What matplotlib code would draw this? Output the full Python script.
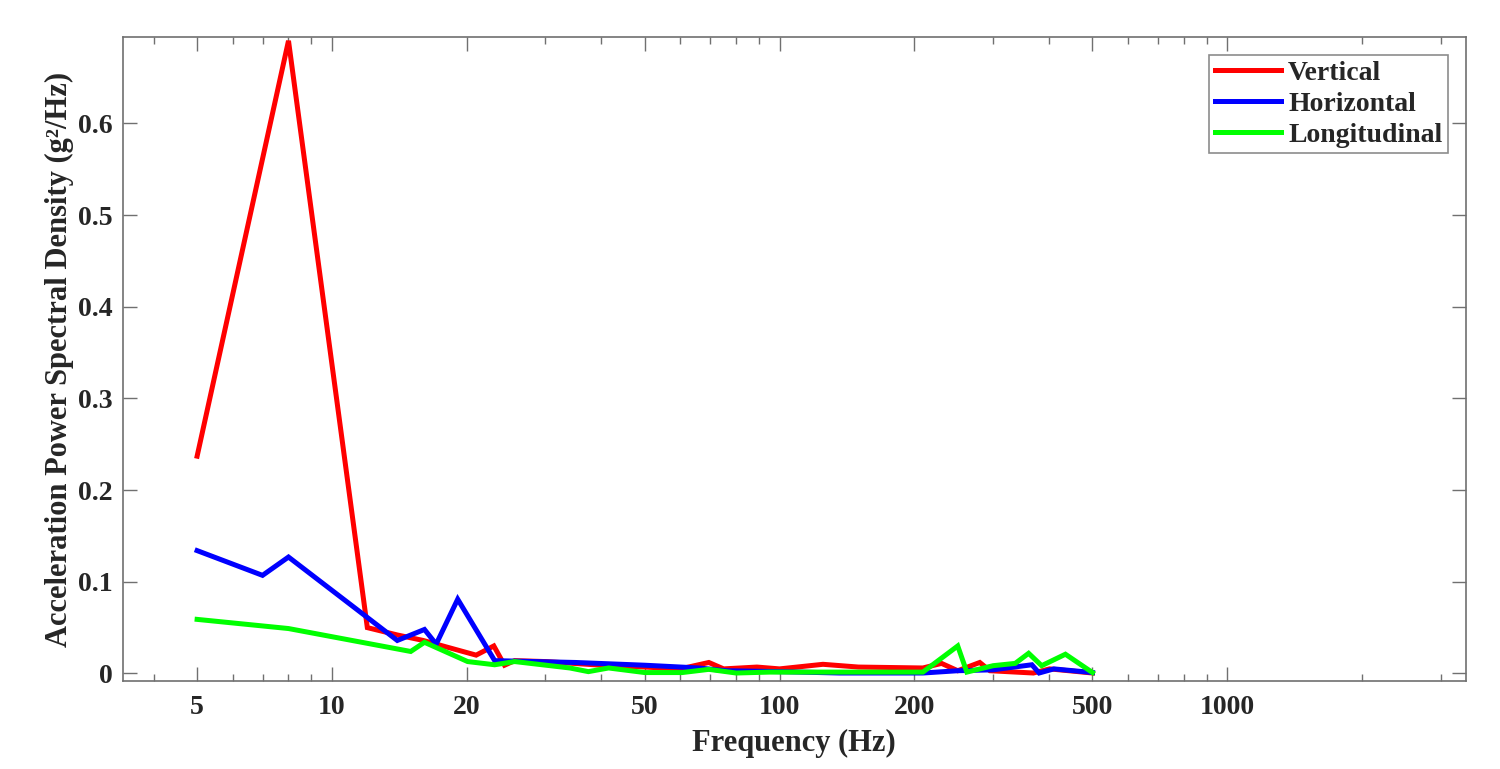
import matplotlib
matplotlib.use("Agg")
import matplotlib.pyplot as plt
from matplotlib.ticker import FixedLocator, NullFormatter

# ---- data ----
f_vert = [5, 8, 12, 14, 16, 18, 21, 23, 24.3, 25.6, 30, 40, 50, 60, 69.5, 75, 89, 100, 125, 150, 209, 230, 250, 280, 295, 369, 401, 500]
v_vert = [0.237, 0.690, 0.050, 0.042, 0.036, 0.029, 0.020, 0.030, 0.009, 0.014, 0.013, 0.009, 0.007, 0.005, 0.012, 0.005, 0.007, 0.005, 0.010, 0.007, 0.006, 0.011, 0.003, 0.012, 0.003, 0.0005, 0.005, 0.0005]

f_horz = [5, 7, 8, 14, 16.1, 17.1, 19.1, 23.1, 35, 50, 66, 76, 100, 136, 209, 250, 300, 366, 380, 410, 500]
v_horz = [0.134, 0.107, 0.127, 0.036, 0.048, 0.032, 0.081, 0.014, 0.012, 0.009, 0.006, 0.003, 0.002, 0.0005, 0.0005, 0.003, 0.004, 0.0095, 0.0005, 0.005, 0.001]

f_long = [5, 8, 15, 16.1, 20.1, 23.1, 25.6, 34, 37.4, 41.5, 50, 60.6, 69.5, 80, 95, 138, 209, 250, 262, 300, 336, 360, 385, 435, 500]
v_long = [0.059, 0.049, 0.024, 0.034, 0.013, 0.0095, 0.013, 0.006, 0.002, 0.006, 0.001, 0.001, 0.0045, 0.0005, 0.0015, 0.0015, 0.0015, 0.030, 0.0015, 0.0085, 0.011, 0.022, 0.0085, 0.021, 0.001]

series_names = ["Vertical", "Horizontal", "Longitudinal"]
series_colors = ["#ff0000", "#0000ff", "#00ff00"]

x_ticks = [5, 10, 20, 50, 100, 200, 500, 1000]
y_ticks = [0, 0.1, 0.2, 0.3, 0.4, 0.5, 0.6]
y_tick_labels = ["0", "0.1", "0.2", "0.3", "0.4", "0.5", "0.6"]

# ---- style ----
plt.rcParams['font.family'] = ['Liberation Serif', 'DejaVu Serif']
plt.rcParams['font.weight'] = 'bold'
text_col = '#262626'
axis_col = '#707070'

fig = plt.figure(figsize=(15, 7.69), dpi=100)
ax = fig.add_axes([0.0818, 0.1148, 0.9773 - 0.0818, 0.9515 - 0.1148])

for fx, vy, name, col in zip([f_vert, f_horz, f_long], [v_vert, v_horz, v_long], series_names, series_colors):
    ax.plot(fx, vy, color=col, lw=3.6, label=name, solid_joinstyle='miter')

ax.set_xscale('log')
ax.set_xlim(3.41, 3413)
ax.set_ylim(-0.0079, 0.6938)

ax.xaxis.set_major_locator(FixedLocator(x_ticks))
ax.set_xticklabels([str(t) for t in x_ticks])
minor = [m * 10 ** e for e in range(0, 4) for m in range(1, 10)]
minor = [m for m in minor if m not in x_ticks and 3.41 <= m <= 3413]
ax.xaxis.set_minor_locator(FixedLocator(minor))
ax.xaxis.set_minor_formatter(NullFormatter())
ax.set_yticks(y_ticks)
ax.set_yticklabels(y_tick_labels)

ax.tick_params(axis='both', which='major', direction='in', length=10, width=1,
               top=True, right=True, labelsize=20, colors=axis_col, labelcolor=text_col)
ax.tick_params(axis='x', which='major', pad=10)
ax.tick_params(axis='y', which='major', pad=7)
ax.tick_params(axis='both', which='minor', direction='in', length=5, width=1,
               top=True, right=True, colors=axis_col)
ax.tick_params(axis='y', which='minor', left=False, right=False)

for sp in ax.spines.values():
    sp.set_color(axis_col)
    sp.set_linewidth(1.2)

for lbl in ax.get_xticklabels() + ax.get_yticklabels():
    lbl.set_fontweight('bold')

ax.set_xlabel("Frequency (Hz)", fontsize=22, fontweight='bold', color=text_col, labelpad=7)
ax.set_ylabel("Acceleration Power Spectral Density (g\u00b2/Hz)", fontsize=22,
              fontweight='bold', color=text_col, labelpad=3)

leg = ax.legend(loc='upper right', bbox_to_anchor=(0.9866, 0.973), fontsize=20, frameon=True, fancybox=False,
                handlelength=2.4, handletextpad=0.25, borderpad=0.2, labelspacing=0.2, borderaxespad=0)
leg.get_frame().set_edgecolor(axis_col)
leg.get_frame().set_linewidth(1.2)
for t in leg.get_texts():
    t.set_color(text_col)
    t.set_fontweight('bold')

fig.savefig("out.png", dpi=100)
